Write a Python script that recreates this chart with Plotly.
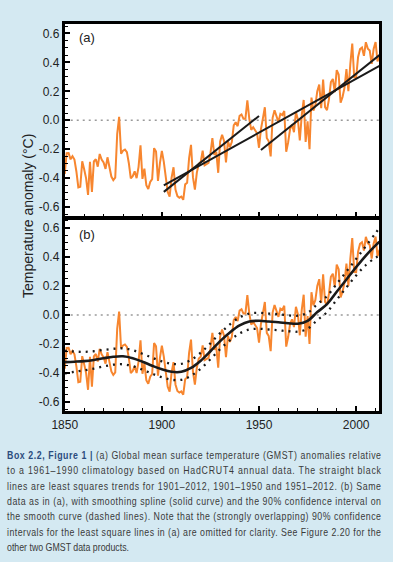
import plotly.graph_objects as go

# ---------------- data ----------------
years = list(range(1850, 2013))
gmst = [
    -0.371, -0.228, -0.227, -0.270, -0.248, -0.271, -0.354, -0.464, -0.460, -0.284,  # 1850s
    -0.339, -0.401, -0.516, -0.288, -0.495, -0.285, -0.269, -0.321, -0.233, -0.271,  # 1860s
    -0.292, -0.336, -0.256, -0.317, -0.389, -0.414, -0.396, -0.096, 0.023, -0.231,   # 1870s
    -0.210, -0.203, -0.220, -0.297, -0.401, -0.386, -0.353, -0.400, -0.322, -0.174,  # 1880s
    -0.405, -0.334, -0.449, -0.475, -0.426, -0.407, -0.193, -0.216, -0.419, -0.296,  # 1890s
    -0.212, -0.287, -0.405, -0.495, -0.528, -0.397, -0.325, -0.479, -0.524, -0.535,  # 1900s
    -0.527, -0.550, -0.443, -0.432, -0.263, -0.170, -0.393, -0.480, -0.362, -0.301,  # 1910s
    -0.288, -0.210, -0.311, -0.302, -0.295, -0.229, -0.124, -0.239, -0.218, -0.363,  # 1920s
    -0.147, -0.100, -0.143, -0.291, -0.146, -0.186, -0.151, -0.035, -0.014, -0.041,  # 1930s
    0.030, 0.040, 0.010, 0.010, 0.137, 0.010, -0.066, -0.048, -0.074, -0.090,        # 1940s
    -0.190, -0.062, 0.013, 0.090, -0.123, -0.145, -0.250, 0.017, 0.069, 0.034,       # 1950s
    -0.013, 0.044, 0.036, 0.064, -0.218, -0.152, -0.061, -0.030, -0.083, 0.057,      # 1960s
    0.005, -0.140, 0.035, 0.140, -0.150, -0.008, -0.200, 0.157, 0.066, 0.103,        # 1970s
    0.201, 0.247, 0.083, 0.281, 0.090, 0.070, 0.145, 0.264, 0.285, 0.194,            # 1980s
    0.347, 0.316, 0.121, 0.161, 0.224, 0.354, 0.201, 0.388, 0.530, 0.296,            # 1990s
    0.295, 0.437, 0.491, 0.502, 0.445, 0.539, 0.495, 0.482, 0.389, 0.492,            # 2000s
    0.540, 0.406, 0.449,                                                             # 2010-2012
]

trend_start_year = [1901, 1901, 1951]
trend_end_year = [2012, 1950, 2012]
trend_start_val = [-0.450, -0.495, -0.205]
trend_end_val = [0.375, 0.030, 0.450]

spline_years = [1850, 1855, 1860, 1865, 1870, 1875, 1880, 1885, 1890, 1895,
                1900, 1905, 1910, 1915, 1920, 1925, 1930, 1935, 1940, 1945,
                1950, 1955, 1960, 1965, 1970, 1975, 1980, 1985, 1990, 1995,
                2000, 2005, 2010, 2012]
spline_vals = [-0.325, -0.322, -0.318, -0.310, -0.298, -0.288, -0.285, -0.298, -0.322, -0.350,
               -0.375, -0.392, -0.392, -0.365, -0.315, -0.250, -0.180, -0.120, -0.072, -0.045,
               -0.040, -0.045, -0.050, -0.057, -0.060, -0.040, 0.020, 0.075, 0.160, 0.245,
               0.330, 0.410, 0.480, 0.505]
ci_upper = [-0.247, -0.252, -0.254, -0.250, -0.241, -0.233, -0.230, -0.243, -0.267, -0.295,
            -0.320, -0.337, -0.337, -0.310, -0.260, -0.195, -0.125, -0.065, -0.017, 0.010,
            0.015, 0.010, 0.005, -0.002, -0.005, 0.015, 0.075, 0.130, 0.215, 0.300,
            0.387, 0.475, 0.565, 0.600]
ci_lower = [-0.403, -0.392, -0.382, -0.370, -0.355, -0.343, -0.340, -0.353, -0.377, -0.405,
            -0.430, -0.447, -0.447, -0.420, -0.370, -0.305, -0.235, -0.175, -0.127, -0.100,
            -0.095, -0.100, -0.105, -0.112, -0.115, -0.095, -0.035, 0.020, 0.105, 0.190,
            0.273, 0.345, 0.395, 0.410]

y_tick_vals = [-0.6, -0.4, -0.2, 0.0, 0.2, 0.4, 0.6]
y_tick_text = ["-0.6", "-0.4", "-0.2", "0.0", "0.2", "0.4", "0.6"]
x_tick_vals = [1850, 1900, 1950, 2000]
x_tick_text = ["1850", "1900", "1950", "2000"]

caption_lines = [
    '<span style="color:#2b4c7e"><b>Box 2.2, Figure 1 |</b></span> (a) Global mean surface temperature (GMST) anomalies relative',
    "to a 1961–1990 climatology based on HadCRUT4 annual data. The straight black",
    "lines are least squares trends for 1901–2012, 1901–1950 and 1951–2012. (b) Same",
    "data as in (a), with smoothing spline (solid curve) and the 90% confidence interval on",
    "the smooth curve (dashed lines). Note that the (strongly overlapping) 90% confidence",
    "intervals for the least square lines in (a) are omitted for clarity. See Figure 2.20 for the",
    "other two GMST data products.",
]

# ---------------- styling ----------------
W, H = 393, 562
BG = "#d4e9f2"
ORANGE = "#f7862f"
BLACK = "#1a1a1a"
AXFONT = "Liberation Sans, Arial, sans-serif"
CAPFONT = "Liberation Sans, Arial, sans-serif"
CAP_SIZE = 8.8          # caption set small and stretched vertically -> condensed face
CAP_VSCALE = 1.32


def px_x(p):
    return p / W


def px_y(p):
    return 1 - p / H


fig = go.Figure()

# panel (a)
fig.add_trace(go.Scatter(x=years, y=gmst, mode="lines", line=dict(color=ORANGE, width=2),
                         xaxis="x", yaxis="y", showlegend=False, hoverinfo="skip"))
for sy, ey, sv, ev in zip(trend_start_year, trend_end_year, trend_start_val, trend_end_val):
    fig.add_trace(go.Scatter(x=[sy, ey], y=[sv, ev], mode="lines",
                             line=dict(color=BLACK, width=2), xaxis="x", yaxis="y",
                             showlegend=False, hoverinfo="skip"))

# panel (b)
fig.add_trace(go.Scatter(x=years, y=gmst, mode="lines", line=dict(color=ORANGE, width=2),
                         xaxis="x2", yaxis="y2", showlegend=False, hoverinfo="skip"))
for band in (ci_upper, ci_lower):
    fig.add_trace(go.Scatter(x=spline_years, y=band, mode="lines", line_shape="spline",
                             line=dict(color=BLACK, width=2.3, dash="2px,5px"),
                             xaxis="x2", yaxis="y2", showlegend=False, hoverinfo="skip"))
fig.add_trace(go.Scatter(x=spline_years, y=spline_vals, mode="lines", line_shape="spline",
                         line=dict(color=BLACK, width=2.6), xaxis="x2", yaxis="y2",
                         showlegend=False, hoverinfo="skip"))

xdom = [px_x(53.5), px_x(379)]
xaxis_common = dict(range=[1850, 2012], domain=xdom, showgrid=False, zeroline=False,
                    showline=True, linecolor="black", linewidth=3, mirror=True,
                    ticks="inside", ticklen=5, tickwidth=1.5, tickcolor="black",
                    tickvals=x_tick_vals, ticktext=x_tick_text,
                    minor=dict(ticks="inside", ticklen=3, tickwidth=1.2, tickcolor="black",
                               tickmode="linear", tick0=1850, dtick=10, showgrid=False),
                    tickfont=dict(family=AXFONT, size=12, color="#222"), fixedrange=True)
yaxis_common = dict(range=[-0.665, 0.665], showgrid=False, zeroline=False,
                    showline=True, linecolor="black", linewidth=3, mirror=True,
                    ticks="inside", ticklen=5, tickwidth=1.5, tickcolor="black",
                    tickvals=y_tick_vals, ticktext=y_tick_text,
                    minor=dict(ticks="inside", ticklen=3, tickwidth=1.2, tickcolor="black",
                               tickmode="linear", tick0=0, dtick=0.05, showgrid=False),
                    tickfont=dict(family=AXFONT, size=12, color="#222"), fixedrange=True)

fig.update_layout(
    width=W, height=H, autosize=False,
    margin=dict(l=0, r=0, t=0, b=0),
    paper_bgcolor=BG, plot_bgcolor="white",
    xaxis=dict(xaxis_common, anchor="y", showticklabels=False),
    yaxis=dict(yaxis_common, anchor="x", domain=[px_y(216.5), px_y(24)]),
    xaxis2=dict(xaxis_common, anchor="y2"),
    yaxis2=dict(yaxis_common, anchor="x2", domain=[px_y(411.4), px_y(218.6)]),
)

# zero reference lines
for yref, xref in (("y", "x"), ("y2", "x2")):
    fig.add_shape(type="line", xref=xref + " domain", yref=yref, x0=0, x1=1, y0=0, y1=0,
                  line=dict(color="#9a9a9a", width=1.5, dash="2px,4px"), layer="below")

ann = []
ann.append(dict(text="(a)", x=px_x(66), y=px_y(37.5), xref="paper", yref="paper",
                xanchor="left", yanchor="middle", showarrow=False,
                font=dict(family=AXFONT, size=13, color="#222")))
ann.append(dict(text="(b)", x=px_x(66), y=px_y(234), xref="paper", yref="paper",
                xanchor="left", yanchor="middle", showarrow=False,
                font=dict(family=AXFONT, size=13, color="#222")))
ann.append(dict(text="Temperature anomaly (°C)", x=px_x(15), y=px_y(216.5), xref="paper",
                yref="paper", xanchor="center", yanchor="middle", textangle=-90,
                showarrow=False, font=dict(family=AXFONT, size=14, color="#222")))
line_y0, line_dy = 455, 15.3
for i, t in enumerate(caption_lines):
    ann.append(dict(text=t, x=px_x(7), y=px_y(line_y0 + i * line_dy), xref="paper",
                    yref="paper", xanchor="left", yanchor="middle", showarrow=False,
                    font=dict(family=CAPFONT, size=CAP_SIZE, color="#3a3a3a")))
fig.update_layout(annotations=ann)

# Justify the caption lines and give them the tall, condensed look of the printed caption
post_js = """
document.body.style.margin='0';
document.body.style.overflow='hidden';
var gd = document.getElementById('{plot_id}');
function fixCaption(){
  var groups = gd.querySelectorAll('g.annotation');
  var items = [];
  groups.forEach(function(g){
    var idx = +g.getAttribute('data-index');
    if (idx < 3) return;
    var t = g.querySelector('text.annotation-text');
    if (t) items.push([idx, t]);
  });
  if (!items.length) return;
  items.sort(function(a,b){return a[0]-b[0];});
  var target = 374, leftPx = 7, vs = VSCALE;
  var gr = gd.getBoundingClientRect();
  items.forEach(function(it, i){
    var t = it[1];
    t.removeAttribute('textLength'); t.removeAttribute('lengthAdjust');
    t.removeAttribute('transform');
    t.setAttribute('text-anchor', 'start');
    if (i < items.length - 1) {
      t.setAttribute('textLength', target);
      t.setAttribute('lengthAdjust', 'spacing');
    }
    var r = t.getBoundingClientRect();
    var dx = (gr.left + leftPx) - r.left;
    var x = (parseFloat(t.getAttribute('x')) || 0) + dx;
    t.setAttribute('x', x);
    var bb = t.getBBox();
    var cy = bb.y + bb.height / 2;
    t.setAttribute('transform', 'translate(0,' + cy + ') scale(1,' + vs + ') translate(0,' + (-cy) + ')');
  });
}
fixCaption();
setTimeout(fixCaption, 50);
""".replace("VSCALE", str(CAP_VSCALE))

fig.write_html("out.html", config={"displayModeBar": False}, post_script=post_js)
